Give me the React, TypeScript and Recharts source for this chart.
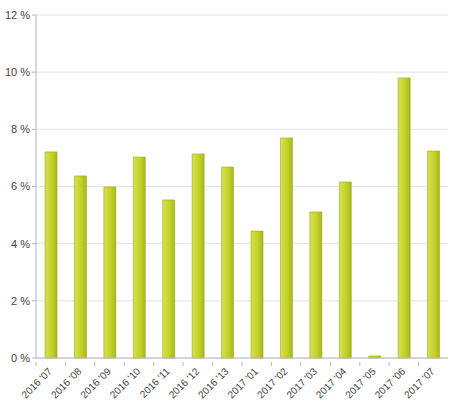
import React from "react";
import { BarChart, Bar, XAxis, YAxis, CartesianGrid } from "recharts";

const months = [
  "2016 '07", "2016 '08", "2016 '09", "2016 '10", "2016 '11", "2016 '12", "2016 '13",
  "2017 '01", "2017 '02", "2017 '03", "2017 '04", "2017 '05", "2017 '06", "2017 '07",
];
const values = [7.21, 6.37, 5.98, 7.03, 5.53, 7.14, 6.68, 4.44, 7.7, 5.11, 6.16, 0.07, 9.8, 7.24];
const yTicks = [0, 2, 4, 6, 8, 10, 12];

const data = months.map((month, i) => ({ month, value: values[i] }));

const STEP = 412 / 14;

function MonthTick(props: any) {
  const { x, y, payload } = props;
  return (
    <g>
      <line x1={x - STEP / 2} x2={x - STEP / 2} y1={y - 4} y2={y} stroke="#b8b8c0" />
      <text
        x={x + 2}
        y={y + 6}
        textAnchor="end"
        fontSize={10}
        fill="#444"
        fontFamily="Liberation Sans, Arial, sans-serif"
        transform={`rotate(-45 ${x + 2} ${y + 6})`}
      >
        {payload.value}
      </text>
    </g>
  );
}

export default function App() {
  return (
    <div style={{ position: "absolute", left: 0, top: 0, background: "#fff" }}>
      <BarChart
        width={459}
        height={403}
        data={data}
        margin={{ top: 15, right: 11, bottom: 0, left: 0 }}
      >
        <defs>
          <linearGradient id="barFill" x1="0" y1="0" x2="1" y2="0">
            <stop offset="0%" stopColor="#d6e24e" />
            <stop offset="55%" stopColor="#c4d22a" />
            <stop offset="100%" stopColor="#a9b81c" />
          </linearGradient>
        </defs>
        <CartesianGrid vertical={false} stroke="#e2e2e2" />
        <XAxis
          dataKey="month"
          interval={0}
          height={45}
          axisLine={{ stroke: "#b8b8c0" }}
          tickLine={false}
          tick={<MonthTick />}
        />
        <YAxis
          width={36}
          domain={[0, 12]}
          ticks={yTicks}
          interval={0}
          tickFormatter={(v) => `${v} %`}
          axisLine={{ stroke: "#b0b4cc" }}
          tickLine={{ stroke: "#b0b4cc" }}
          tickSize={4}
          tick={{ fontSize: 11, fill: "#444", fontFamily: "Liberation Sans, Arial, sans-serif" }}
        />
        <Bar
          dataKey="value"
          barSize={12}
          fill="url(#barFill)"
          stroke="#9aa820"
          strokeWidth={0.6}
          isAnimationActive={false}
        />
      </BarChart>
    </div>
  );
}
